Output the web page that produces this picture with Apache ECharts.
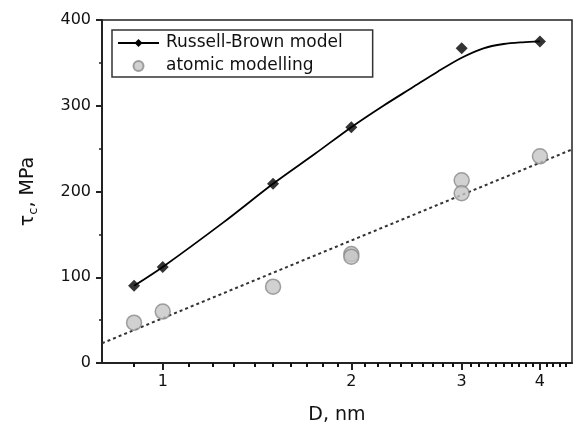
<!DOCTYPE html>
<html>
<head>
<meta charset="utf-8">
<script src="https://cdn.jsdelivr.net/npm/echarts@6/dist/echarts.min.js"></script>
<style>
  html, body { margin: 0; padding: 0; background: #fff; }
  #chart { width: 577px; height: 426px; }
</style>
</head>
<body>
<div id="chart"></div>
<script>
// Russell-Brown model points (diamonds)
const dRB = [0.9, 1, 1.5, 2, 3, 4]
const tauRB = [90, 112, 209, 275, 367, 375]

// smooth model curve
const curveD = [0.9, 1, 1.25, 1.5, 1.75, 2, 2.25, 2.5, 2.75, 3, 3.25, 3.5, 3.75, 4]
const curveTau = [90, 112, 164, 209, 244, 275, 300, 321, 340, 356, 367, 372, 374, 375]

// atomic modelling points (grey circles)
const dAtomic = [0.9, 1, 1.5, 2, 2, 3, 3, 4]
const tauAtomic = [47, 60, 89, 127, 124, 213, 198, 241]

// dashed linear fit, end points
const fitD = [0.8, 4.5]
const fitTau = [23, 249]

// x axis (log scale) ticks
const xMajorTicks = [1, 2, 3, 4]
const xMinorTicks = [0.9, 1.1, 1.2, 1.3, 1.4, 1.5, 1.6, 1.7, 1.8, 1.9,
  2.1, 2.2, 2.3, 2.4, 2.5, 2.6, 2.7, 2.8, 2.9,
  3.1, 3.2, 3.3, 3.4, 3.5, 3.6, 3.7, 3.8, 3.9,
  4.1, 4.2, 4.3, 4.4]
const xMin = 0.8
const xMax = 4.5

const lg = v => Math.log10(v)
const pairs = (xs, ys) => xs.map((x, i) => [lg(x), ys[i]])

const font = 'DejaVu Sans'
const ink = '#111'

const chart = echarts.init(document.getElementById('chart'), null, { renderer: 'canvas' })

const baseX = {
  type: 'value',
  min: lg(xMin),
  max: lg(xMax),
  position: 'bottom',
  splitLine: { show: false }
}

chart.setOption({
  backgroundColor: '#fff',
  animation: false,
  grid: {
    left: 102, right: 5, top: 20, bottom: 63,
    outerBoundsMode: 'none',
    show: true,
    borderColor: '#222',
    borderWidth: 1.5
  },
  legend: {
    data: ['Russell-Brown model', 'atomic modelling'],
    orient: 'vertical',
    left: 112,
    top: 30,
    padding: [3, 30, 1, 5],
    itemWidth: 41,
    itemHeight: 10,
    itemGap: 3,
    borderColor: '#333',
    borderWidth: 1.5,
    selectedMode: false,
    textStyle: { fontFamily: font, fontSize: 17, color: ink, lineHeight: 20, padding: [0, 0, 0, 2] }
  },
  xAxis: [
    Object.assign({}, baseX, {
      name: 'D, nm',
      nameLocation: 'middle',
      nameGap: 43,
      nameTextStyle: { fontFamily: font, fontSize: 19, color: ink },
      axisLine: { onZero: false, lineStyle: { color: '#222', width: 2 } },
      axisTick: {
        show: true, length: 7, customValues: xMajorTicks.map(lg),
        lineStyle: { color: '#222', width: 2 }
      },
      axisLabel: {
        customValues: xMajorTicks.map(lg),
        formatter: v => String(Math.round(Math.pow(10, v))),
        fontFamily: font, fontSize: 16, color: ink, margin: 11
      }
    }),
    Object.assign({}, baseX, {
      axisLine: { show: false, onZero: false },
      axisTick: {
        show: true, length: 4, customValues: xMinorTicks.map(lg),
        lineStyle: { color: '#111', width: 2 }
      },
      axisLabel: { show: false }
    })
  ],
  yAxis: {
    type: 'value',
    min: 0,
    max: 400,
    interval: 100,
    name: '{t|τ}{s|c}{t|, MPa}',
    nameLocation: 'middle',
    nameGap: 62,
    nameTextStyle: {
      rich: {
        t: { fontFamily: font, fontSize: 19, color: ink },
        s: { fontFamily: font, fontSize: 13, color: ink, padding: [10, 0, 0, 0] }
      }
    },
    axisLine: { show: true, onZero: false, lineStyle: { color: '#222', width: 2 } },
    axisTick: { show: true, length: 6, lineStyle: { color: '#222', width: 2 } },
    minorTick: { show: true, splitNumber: 2, length: 3, lineStyle: { color: '#222', width: 1.5 } },
    splitLine: { show: false },
    axisLabel: { fontFamily: font, fontSize: 16, color: ink, margin: 11 }
  },
  series: [
    {
      name: 'fit',
      type: 'line',
      data: pairs(fitD, fitTau),
      symbol: 'none',
      lineStyle: { color: '#333', width: 2, type: [3, 3] },
      z: 1
    },
    {
      name: 'atomic modelling',
      type: 'scatter',
      data: pairs(dAtomic, tauAtomic),
      symbol: 'circle',
      symbolSize: 15,
      itemStyle: { color: '#c6c6c6', borderColor: '#8a8a8a', borderWidth: 1.5 },
      z: 2
    },
    {
      name: 'Russell-Brown model',
      type: 'line',
      data: pairs(curveD, curveTau),
      smooth: 0.3,
      symbol: 'diamond',
      symbolSize: 10,
      showSymbol: false,
      itemStyle: { color: '#000' },
      lineStyle: { color: '#000', width: 1.8 },
      z: 3
    },
    {
      name: 'Russell-Brown model',
      type: 'scatter',
      data: pairs(dRB, tauRB),
      symbol: 'diamond',
      symbolSize: 12,
      itemStyle: { color: '#000' },
      z: 4
    }
  ]
})
</script>
</body>
</html>
